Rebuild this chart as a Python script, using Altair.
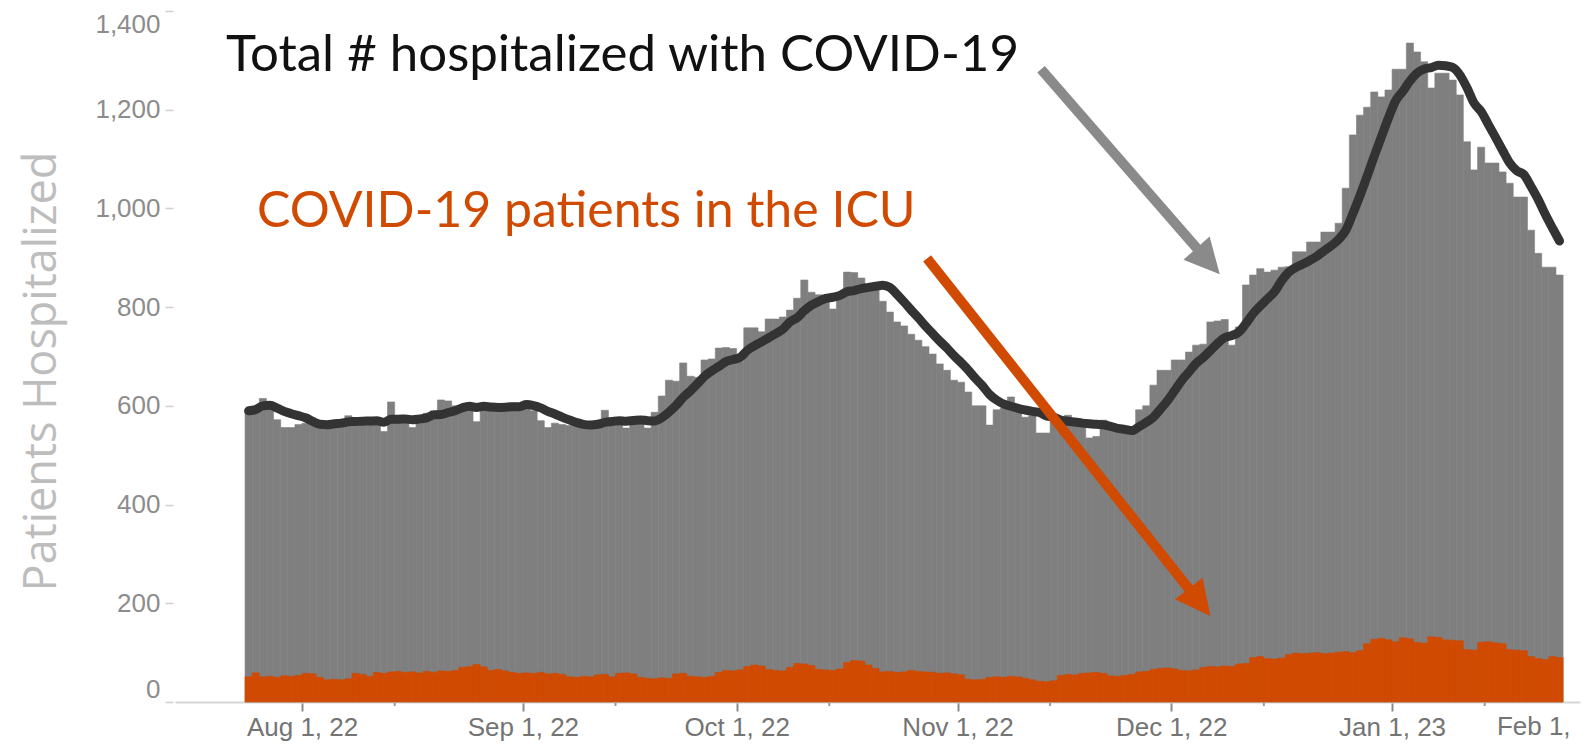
import altair as alt
import pandas as pd

# ---------------- data ----------------
start_date = "2022-07-24"

total_hospitalized = [
    590, 595, 615, 605, 572, 556, 556, 562, 565, 563,
    565, 566, 568, 566, 580, 570, 568, 566, 570, 548,
    608, 580, 575, 556, 578, 585, 590, 612, 610, 600,
    598, 600, 568, 605, 602, 605, 603, 606, 600, 598,
    590, 570, 556, 565, 562, 560, 562, 563, 562, 565,
    591, 575, 572, 555, 572, 570, 555, 587, 620, 652,
    650, 687, 660, 658, 693, 695, 717, 718, 716, 690,
    758, 758, 750, 776, 776, 780, 794, 818, 855, 830,
    825, 822, 796, 821, 871, 870, 859, 841, 838, 812,
    790, 770, 762, 745, 733, 720, 705, 685, 672, 652,
    648, 628, 600, 600, 561, 592, 595, 618, 598, 577,
    580, 545, 545, 577, 577, 581, 565, 565, 535, 538,
    571, 555, 552, 550, 548, 592, 600, 642, 672, 672,
    693, 693, 709, 723, 725, 770, 772, 775, 723, 760,
    845, 865, 878, 871, 875, 881, 882, 912, 912, 932,
    932, 952, 952, 970, 1041, 1149, 1189, 1205, 1236, 1226,
    1240, 1282, 1282, 1335, 1317, 1297, 1244, 1274, 1274, 1260,
    1230, 1135, 1078, 1124, 1092, 1092, 1074, 1051, 1023, 1023,
    956, 909, 881, 881, 865,
]

icu_patients = [
    51, 59, 51, 52, 50, 53, 52, 54, 58, 57,
    50, 45, 46, 45, 47, 58, 56, 52, 60, 58,
    61, 62, 60, 61, 59, 62, 60, 63, 62, 64,
    70, 72, 76, 71, 64, 66, 63, 60, 58, 59,
    58, 60, 57, 58, 56, 51, 50, 52, 51, 55,
    56, 51, 58, 59, 57, 50, 48, 47, 49, 48,
    57, 58, 52, 51, 50, 52, 60, 64, 63, 65,
    72, 75, 73, 66, 64, 63, 70, 78, 77, 74,
    66, 65, 64, 67, 80, 84, 83, 75, 68, 61,
    62, 60, 61, 64, 62, 61, 60, 58, 59, 57,
    55, 46, 45, 46, 50, 51, 50, 52, 51, 48,
    45, 42, 41, 43, 54, 56, 55, 58, 59, 60,
    58, 53, 52, 54, 56, 61, 62, 66, 68, 69,
    67, 64, 63, 65, 70, 72, 71, 73, 72, 77,
    78, 90, 92, 88, 87, 89, 96, 99, 98, 99,
    100, 98, 99, 101, 102, 100, 104, 118, 127, 129,
    126, 122, 130, 128, 121, 119, 132, 131, 126, 125,
    124, 106, 105, 121, 122, 120, 118, 106, 105, 104,
    92, 88, 86, 92, 90,
]

month_ticks = [(2022, 8), (2022, 9), (2022, 10), (2022, 11), (2022, 12), (2023, 1)]
minor_ticks = ["2022-08-14", "2022-09-14", "2022-10-14", "2022-11-14", "2022-12-14", "2023-01-14"]
y_ticks = [0, 200, 400, 600, 800, 1000, 1200, 1400]

note_labels = ["Total # hospitalized with COVID-19", "COVID-19 patients in the ICU"]
note_dates = ["2022-07-21T08:00:00", "2022-07-25T16:20:00"]
note_values = [1278, 962]
note_sizes = [51, 50]
note_colors = ["#111111", "#d04a02"]

arrow_start_dates = ["2022-11-12T17:30:00", "2022-10-27T17:30:00"]
arrow_start_values = [1282, 899]
arrow_head_dates = ["2022-12-06T04:20:00", "2022-12-04T23:30:00"]
arrow_head_values = [893, 202]
arrow_angles = [48.4, 52]
arrow_colors = ["#8a8a8a", "#d04a02"]

# ---------------- layout ----------------
W, H = 1405, 691
GRAY = "#7f7f7f"
ORANGE = "#d04a02"
TICK_FONT = "Liberation Sans"
TICK_SIZE = 26
LABEL_OFFSET = 12  # tick size + label padding

dates = pd.date_range(start_date, periods=len(total_hospitalized), freq="D")
df = pd.DataFrame({
    "date": dates,
    "date_end": dates + pd.Timedelta(days=1),
    "mid": dates + pd.Timedelta(hours=12),
    "total": total_hospitalized,
    "icu": icu_patients,
})

notes = pd.DataFrame({"label": note_labels, "date": pd.to_datetime(note_dates),
                      "value": note_values, "fs": note_sizes, "color": note_colors})
arrows = pd.DataFrame({
    "d0": pd.to_datetime(arrow_start_dates), "v0": arrow_start_values,
    "d1": pd.to_datetime(arrow_head_dates), "v1": arrow_head_values,
    "angle": arrow_angles, "color": arrow_colors,
})
minor_df = pd.DataFrame({"date": pd.to_datetime(minor_ticks)})
feb_df = pd.DataFrame({"date": pd.to_datetime(["2023-01-15T17:00:00"]), "label": ["Feb 1,"]})

x_scale = alt.Scale(domain=[alt.DateTime(year=2022, month=7, date=14, hours=4),
                            alt.DateTime(year=2023, month=1, date=27, hours=9)])
y_scale = alt.Scale(domain=[0, 1400], nice=False, zero=True)

x_axis = alt.Axis(
    values=[alt.DateTime(year=y, month=m, date=1) for y, m in month_ticks],
    format="%b %-d, %y", title=None, grid=False,
    labelFont=TICK_FONT, labelFontSize=TICK_SIZE, labelColor="#747474",
    labelPadding=LABEL_OFFSET - 9, labelOverlap=False, labelFlush=False,
    tickSize=9, tickColor="#8a8a8a", tickWidth=2,
    domainColor="#d6d6d6", domainWidth=2,
)
y_axis = alt.Axis(
    values=y_ticks, format=",d", grid=False, domain=False, offset=2,
    labelFont=TICK_FONT, labelFontSize=TICK_SIZE, labelColor="#8c8c8c",
    labelPadding=5, labelFlush=True,
    tickSize=8, tickColor="#cfcfcf", tickWidth=1.5,
    title="Patients Hospitalized", titleFont="Open Sans", titleFontSize=45,
    titleFontWeight="normal", titleColor="#bdbdbd", titleAngle=270,
    titleBaseline="bottom", titleAlign="center", titleX=-109, titleY=360,
)


def X(field):
    return alt.X(field, scale=x_scale, axis=x_axis)


def Y(field):
    return alt.Y(field, scale=y_scale, axis=y_axis)


base = alt.Chart(df)

total_bars = base.mark_bar(color=GRAY, stroke=GRAY, strokeWidth=0.6).encode(
    x=X("date:T"), x2="date_end:T",
    y=Y("total:Q"), y2=alt.datum(0),
)

icu_bars = base.mark_bar(color=ORANGE, stroke=ORANGE, strokeWidth=0.6).encode(
    x=X("date:T"), x2="date_end:T",
    y=Y("icu:Q"), y2=alt.datum(0),
)

avg_line = base.transform_window(
    avg="mean(total)", frame=[-6, 0], sort=[alt.SortField("date")]
).mark_line(color="#333333", strokeWidth=9, interpolate="monotone", strokeCap="round").encode(
    x=X("mid:T"), y=Y("avg:Q"),
)

note_text = alt.Chart(notes).mark_text(
    font="Lato", align="left", baseline="alphabetic"
).encode(
    x=X("date:T"), y=Y("value:Q"),
    text="label:N",
    size=alt.Size("fs:Q", scale=None),
    color=alt.Color("color:N", scale=None),
)

shafts = alt.Chart(arrows).mark_rule(strokeWidth=10, strokeCap="butt").encode(
    x=X("d0:T"), y=Y("v0:Q"), x2="d1:T", y2="v1:Q",
    color=alt.Color("color:N", scale=None),
)

heads = alt.Chart(arrows).mark_point(
    shape="M-1,-1L1,0L-1,1Z", filled=True, size=1225, opacity=1, strokeWidth=0
).encode(
    x=X("d1:T"), y=Y("v1:Q"),
    angle=alt.Angle("angle:Q", scale=None),
    color=alt.Color("color:N", scale=None),
)

minor = alt.Chart(minor_df).mark_rule(color="#9a9a9a", strokeWidth=2).encode(
    x=X("date:T"), y=alt.value(H + 1), y2=alt.value(H + 4),
)

feb_label = alt.Chart(feb_df).mark_text(
    font=TICK_FONT, fontSize=TICK_SIZE, color="#747474", align="left", baseline="top"
).encode(
    x=X("date:T"), y=alt.value(H + LABEL_OFFSET), text="label:N",
)

chart = alt.layer(
    total_bars, icu_bars, avg_line, shafts, heads, note_text, minor, feb_label
).properties(
    width=W, height=H,
    padding={"left": 167, "top": 3, "right": 5, "bottom": 39},
    autosize=alt.AutoSizeParams(type="none"),
    background="white",
).configure_view(stroke=None)

chart.save("out.html", embed_options={"renderer": "svg", "actions": False})
